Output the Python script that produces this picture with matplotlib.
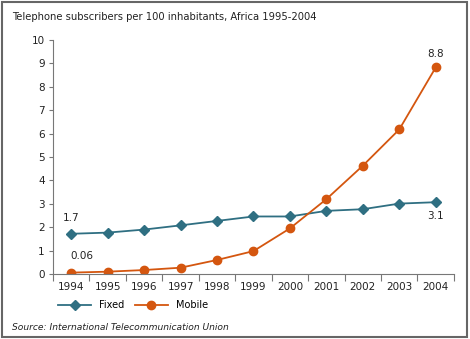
import matplotlib.pyplot as plt
from matplotlib.patches import Rectangle

years = [1994, 1995, 1996, 1997, 1998, 1999, 2000, 2001, 2002, 2003, 2004]
fixed = [1.72, 1.77, 1.9, 2.08, 2.27, 2.46, 2.46, 2.7, 2.77, 3.01, 3.07]
mobile = [0.06, 0.1, 0.17, 0.27, 0.6, 0.98, 1.95, 3.2, 4.63, 6.18, 8.83]

fixed_color = '#2f6f82'
mobile_color = '#d4560f'
text_color = '#222222'

fig = plt.figure(figsize=(4.7, 3.39), dpi=100)
ax = fig.add_axes([0.1128, 0.1917, 0.853, 0.690])

ax.plot(years, fixed, color=fixed_color, marker='D', markersize=5.5, linewidth=1.3, label='Fixed')
ax.plot(years, mobile, color=mobile_color, marker='o', markersize=6, linewidth=1.3, label='Mobile')

ax.set_xlim(1993.5, 2004.5)
ax.set_ylim(0, 10)
ax.set_yticks(range(0, 11))
ax.set_xticks(years)
ax.set_xticks([y + 0.5 for y in [1993] + years], minor=True)
ax.tick_params(axis='x', which='major', length=0, pad=6, labelsize=7.5, labelcolor=text_color)
ax.tick_params(axis='x', which='minor', length=5, width=0.8, color='#777777', direction='out')
ax.tick_params(axis='y', length=3, width=0.8, color='#777777', labelsize=7.5, labelcolor=text_color, pad=3)

for s in ['top', 'right']:
    ax.spines[s].set_visible(False)
for s in ['left', 'bottom']:
    ax.spines[s].set_color('#777777')
    ax.spines[s].set_linewidth(0.8)

ax.annotate('1.7', (years[0], fixed[0]), xytext=(0, 8), textcoords='offset points',
            ha='center', va='bottom', fontsize=7.5, color=text_color)
ax.annotate('0.06', (years[0], mobile[0]), xytext=(8, 8), textcoords='offset points',
            ha='center', va='bottom', fontsize=7.5, color=text_color)
ax.annotate('8.8', (years[-1], mobile[-1]), xytext=(0, 6), textcoords='offset points',
            ha='center', va='bottom', fontsize=7.5, color=text_color)
ax.annotate('3.1', (years[-1], fixed[-1]), xytext=(0, -6), textcoords='offset points',
            ha='center', va='top', fontsize=7.5, color=text_color)

fig.text(0.026, 0.95, 'Telephone subscribers per 100 inhabitants, Africa 1995-2004',
         fontsize=7.2, color=text_color, va='center')
fig.text(0.026, 0.035, 'Source: International Telecommunication Union',
         fontsize=6.6, color=text_color, style='italic', va='center')

fig.legend(loc='center left', bbox_to_anchor=(0.105, 0.1), ncol=2, frameon=False,
           fontsize=7, handlelength=3.4, columnspacing=1.1, handletextpad=0.8)

fig.patches.append(Rectangle((0.004, 0.006), 0.99, 0.988, transform=fig.transFigure,
                             fill=False, edgecolor='#666666', linewidth=1.5))

fig.savefig('out.png', dpi=100, facecolor='white')
